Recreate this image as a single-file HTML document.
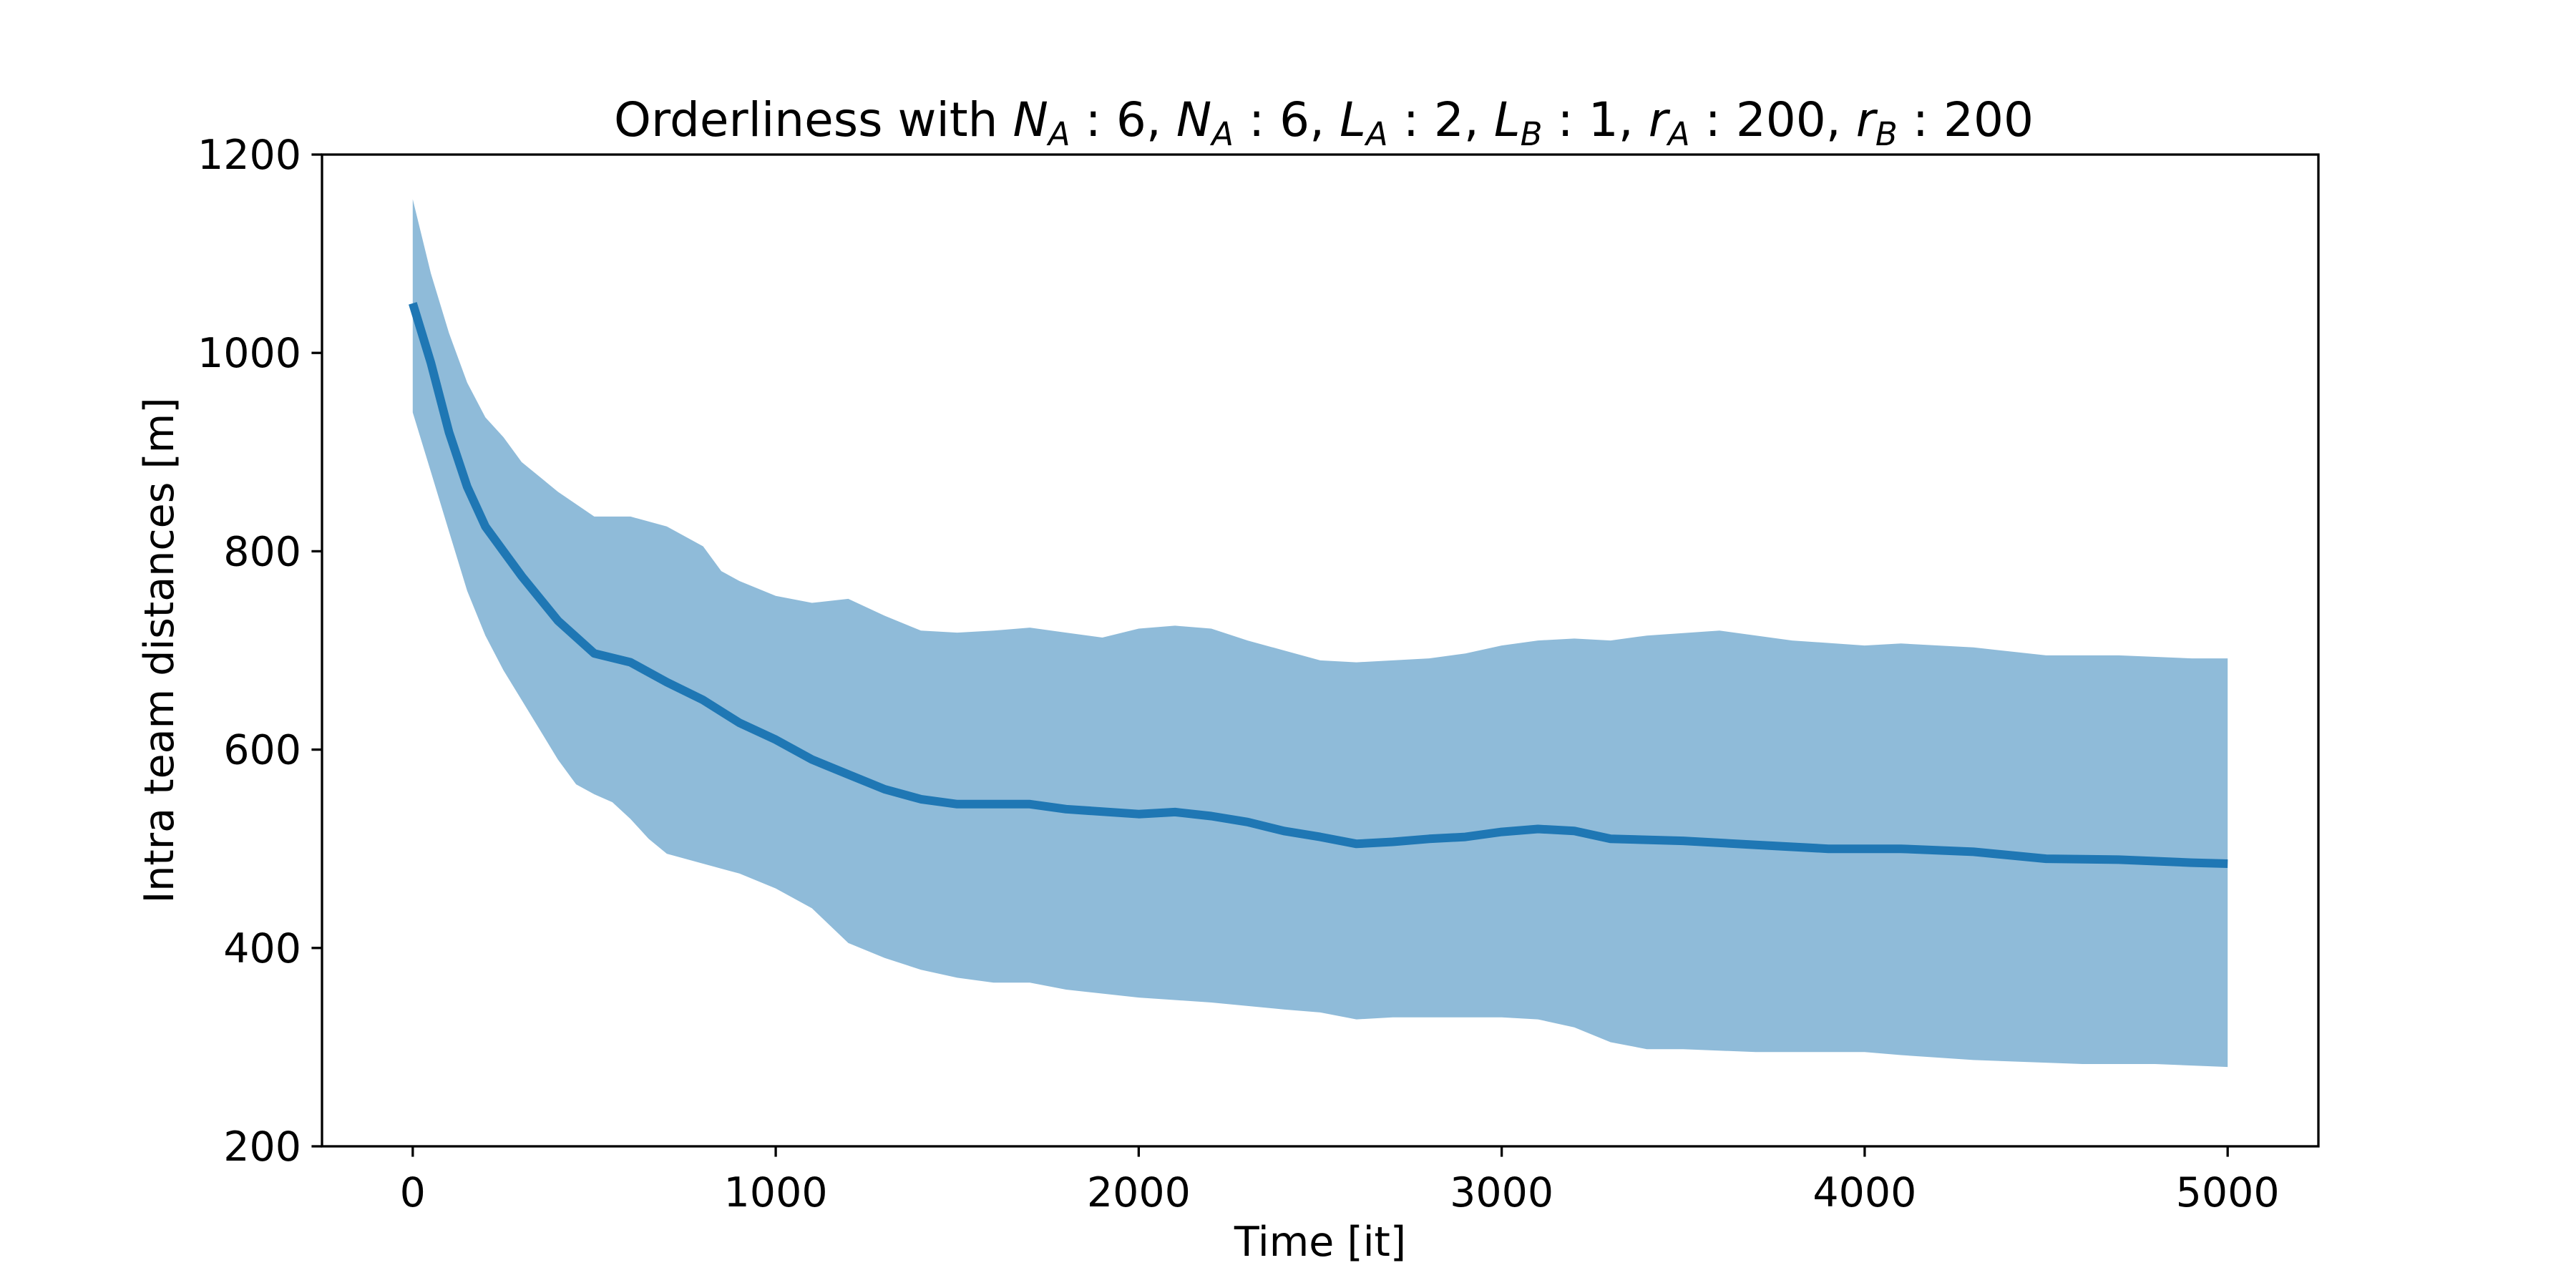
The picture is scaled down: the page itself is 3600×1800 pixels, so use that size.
<!DOCTYPE html>
<html><head><meta charset="utf-8"><style>
html,body{margin:0;padding:0;background:#fff}
svg{display:block}
text{font-family:"DejaVu Sans","Liberation Sans",sans-serif;fill:#000}
</style></head><body>
<svg id="chart" width="3600" height="1800" viewBox="0 0 3600 1800">
<rect width="3600" height="1800" fill="#fff"/>
<g id="plot"></g>
<text x="1850" y="190" font-size="66" text-anchor="middle">Orderliness with  <tspan font-style="italic">N</tspan><tspan font-style="italic" font-size="45" dy="13">A</tspan><tspan dy="-13"> : 6, </tspan><tspan font-style="italic">N</tspan><tspan font-style="italic" font-size="45" dy="13">A</tspan><tspan dy="-13"> : 6, </tspan><tspan font-style="italic">L</tspan><tspan font-style="italic" font-size="45" dy="13">A</tspan><tspan dy="-13"> : 2, </tspan><tspan font-style="italic">L</tspan><tspan font-style="italic" font-size="45" dy="13">B</tspan><tspan dy="-13"> : 1, </tspan><tspan font-style="italic">r</tspan><tspan font-style="italic" font-size="45" dy="13">A</tspan><tspan dy="-13"> : 200, </tspan><tspan font-style="italic">r</tspan><tspan font-style="italic" font-size="45" dy="13">B</tspan><tspan dy="-13"> : 200</tspan></text>
<text x="1845" y="1755" font-size="57" text-anchor="middle">Time [it]</text>
<text transform="translate(242,909) rotate(-90)" font-size="57" text-anchor="middle">Intra team distances [m]</text>
</svg>
<script>
const meanT=[0,50,100,150,200,250,300,400,500,600,700,800,900,1000,1100,1200,1300,1400,1500,1700,1800,2000,2100,2200,2300,2400,2500,2600,2700,2800,2900,3000,3100,3200,3300,3500,3700,3900,4100,4300,4500,4700,4900,5000];
const meanV=[1050,990,920,865,825,800,775,730,697,688,668,650,627,610,590,575,560,550,545,545,540,535,537,533,527,518,512,505,507,510,512,517,520,518,510,508,504,500,500,497,490,489,486,485];
const upperT=[0,50,100,150,200,250,300,400,500,600,700,800,850,900,1000,1100,1200,1300,1400,1500,1600,1700,1800,1900,2000,2100,2200,2300,2400,2500,2600,2700,2800,2900,3000,3100,3200,3300,3400,3600,3800,4000,4100,4300,4500,4700,4900,5000];
const upperV=[1155,1080,1020,970,935,915,890,860,835,835,825,805,780,770,755,748,752,735,720,718,720,723,718,713,722,725,722,710,700,690,688,690,692,697,705,710,712,710,715,720,710,705,707,703,695,695,692,692];
const lowerT=[0,50,100,150,200,250,300,350,400,450,500,550,600,650,700,800,900,1000,1100,1200,1300,1400,1500,1600,1700,1800,2000,2200,2400,2500,2600,2700,2800,2900,3000,3100,3200,3300,3400,3500,3700,4000,4100,4300,4600,4800,5000];
const lowerV=[940,880,820,760,715,680,650,620,590,565,555,547,530,510,495,485,475,460,440,405,390,378,370,365,365,358,350,345,338,335,328,330,330,330,330,328,320,305,298,298,295,295,292,287,283,283,280];
const xTicks=[0,1000,2000,3000,4000,5000];
const yTicks=[200,400,600,800,1000,1200];

const L=450,R=3240,T=216,B=1602;
const xMin=-250,xMax=5250,yMin=200,yMax=1200;
const xs=v=>L+(v-xMin)/(xMax-xMin)*(R-L);
const ys=v=>B-(v-yMin)/(yMax-yMin)*(B-T);
const NS='http://www.w3.org/2000/svg';
const plot=document.getElementById('plot');
function mk(tag,attrs){const e=document.createElementNS(NS,tag);for(const k in attrs)e.setAttribute(k,attrs[k]);return e;}

let d='';
upperT.forEach((t,i)=>{d+=(i?'L':'M')+xs(t).toFixed(1)+','+ys(upperV[i]).toFixed(1);});
for(let i=lowerT.length-1;i>=0;i--){d+='L'+xs(lowerT[i]).toFixed(1)+','+ys(lowerV[i]).toFixed(1);}
d+='Z';
const band=mk('path',{d:d,fill:'#1f77b4','fill-opacity':'0.5',stroke:'none'});


plot.appendChild(band);

let dm='';
meanT.forEach((t,i)=>{dm+=(i?'L':'M')+xs(t).toFixed(1)+','+ys(meanV[i]).toFixed(1);});
const line=mk('path',{d:dm,fill:'none',stroke:'#1f77b4','stroke-width':'12','stroke-linejoin':'round'});


plot.appendChild(line);

const frame=mk('rect',{x:L,y:T,width:R-L,height:B-T,fill:'none',stroke:'#000','stroke-width':'3.3'});


plot.appendChild(frame);

xTicks.forEach(v=>{
  const g=mk('g',{});
  
  
  g.appendChild(mk('line',{x1:xs(v),x2:xs(v),y1:B,y2:B+14.6,stroke:'#000','stroke-width':'3.3'}));
  const t=mk('text',{x:xs(v),y:B+84,'font-size':'57','text-anchor':'middle'});
  t.textContent=v;g.appendChild(t);plot.appendChild(g);
});
yTicks.forEach(v=>{
  const g=mk('g',{});
  
  
  g.appendChild(mk('line',{x1:L-14.6,x2:L,y1:ys(v),y2:ys(v),stroke:'#000','stroke-width':'3.3'}));
  const t=mk('text',{x:L-29,y:ys(v)+20,'font-size':'57','text-anchor':'end'});
  t.textContent=v;g.appendChild(t);plot.appendChild(g);
});
</script>
</body></html>
